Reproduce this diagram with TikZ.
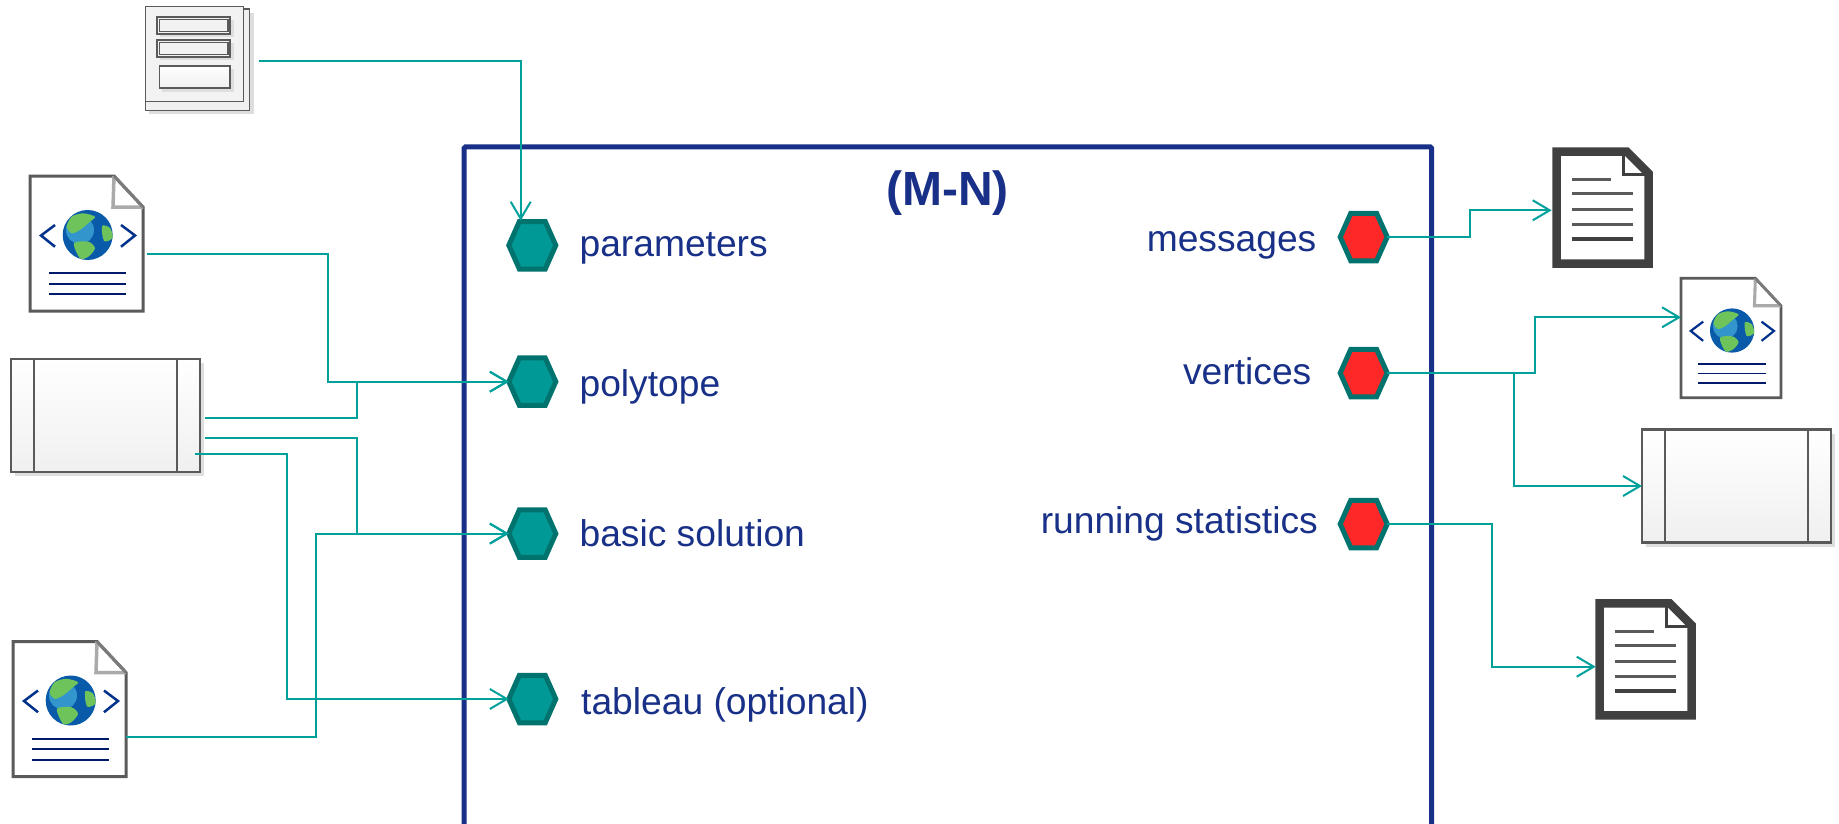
\documentclass[tikz,border=0pt]{standalone}
\usepackage{fontspec}
\setmainfont{Liberation Sans}
\usetikzlibrary{arrows.meta, shapes.symbols, shadows}

\definecolor{navyline}{RGB}{24,48,135}
\definecolor{wireteal}{RGB}{0,160,155}
\definecolor{hexedge}{RGB}{0,115,110}
\definecolor{hexteal}{RGB}{0,153,150}
\definecolor{hexred}{RGB}{255,40,40}
\definecolor{edgegray}{RGB}{90,90,90}
\definecolor{docgray}{RGB}{64,64,64}
\definecolor{foldgray}{RGB}{170,170,170}
\definecolor{shadegray}{RGB}{222,222,222}
\definecolor{globeblue}{RGB}{10,90,170}
\definecolor{globelight}{RGB}{50,150,205}
\definecolor{globegreen}{RGB}{110,195,90}
\definecolor{rulenavy}{RGB}{0,25,105}
\definecolor{chevblue}{RGB}{0,50,140}

\tikzset{
    wire/.style={draw=wireteal, line width=2pt},
    wirearrow/.style={wire, -{Straight Barb[length=17pt, width=20pt]}},
    port/.style={shape=signal, signal to=east and west, signal pointer angle=132, draw=hexedge,
        line width=5pt, minimum width=47pt, minimum height=47.5pt, inner sep=0pt, outer sep=0pt},
    portin/.style={port, fill=hexteal},
    portout/.style={port, fill=hexred},
    portlabel/.style={text=navyline, font=\fontsize{37.2}{37.2}\selectfont, inner sep=0pt},
    tablebox/.style={draw=edgegray, line width=2.2pt, minimum width=189pt, minimum height=113pt, outer sep=0pt,
        top color=white, bottom color=black!6,
        drop shadow={shadow xshift=4pt, shadow yshift=-4pt, fill=shadegray, opacity=1},
        path picture={
            \draw[edgegray, line width=2.2pt] ([xshift=23pt]path picture bounding box.north west) -- ([xshift=23pt]path picture bounding box.south west);
            \draw[edgegray, line width=2.2pt] ([xshift=-23pt]path picture bounding box.north east) -- ([xshift=-23pt]path picture bounding box.south east);
        }},
    pics/xmldoc/.style={code={
        \begin{scope}[scale=#1]
            \draw[fill=white, draw=edgegray, line width=#1*3pt] (0,0) -- (84,0) -- (113,31) -- (113,135) -- (0,135) -- cycle;
            \draw[foldgray, line width=#1*3.5pt] (84,0) -- (83,31) -- (113,31);
            \draw[edgegray!80, line width=#1*3pt] (84,0) -- (113,31);
            \fill[globeblue] (57.7,59) circle (25);
            \fill[globelight] (50,54) circle (14);
            \fill[globegreen] plot[smooth cycle] coordinates {(36.7,50.7) (41.7,40.7) (53.3,37.3) (65,40.7) (60,45.7) (50,54) (41.7,57.3)};
            \fill[globegreen] plot[smooth cycle] coordinates {(44,67.3) (58.3,65.7) (65,72.3) (58.3,80.7) (50,82.3)};
            \fill[globegreen] plot[smooth cycle] coordinates {(72,50) (80,52) (82.5,62) (74,65)};
            \draw[chevblue, line width=#1*2.5pt] (25,49) -- (11,59.5) -- (25,70.7);
            \draw[chevblue, line width=#1*2.5pt] (91,49) -- (105,59.5) -- (91,70.7);
            \foreach \ly in {97,107.5,118}
                \draw[rulenavy, line width=#1*2pt] (19,\ly) -- (96,\ly);
        \end{scope}
    }},
    pics/textdoc/.style={code={
        \draw[fill=white, draw=docgray, line width=8.5pt, miter limit=4] (4,4) -- (74,4) -- (96,26) -- (96,116) -- (4,116) -- cycle;
        \draw[docgray, line width=3.5pt] (71,6) -- (71,27) -- (93,27);
        \draw[edgegray, line width=3pt] (19.7,31.7) -- (58,31.7);
        \foreach \ly in {46,62,76.7}
            \draw[edgegray, line width=3pt] (19.7,\ly) -- (80,\ly);
        \draw[docgray, line width=4pt] (19.7,91.7) -- (80,91.7);
    }}
}

\begin{document}
\begin{tikzpicture}[x=1pt, y=-1pt]
    \useasboundingbox (0,0) rectangle (1839,824);

    \draw[navyline, line width=5pt, rounded corners=1.5pt] (464,824) -- (464,147) -- (1431.7,147) -- (1431.7,824);
    \node[text=navyline, font=\fontsize{48}{48}\selectfont\bfseries, inner sep=0pt] (title) at (947.6,193) {(M-N)};

    \foreach \name/\x/\y in {hexparam/532.3/245.3, hexpoly/532.3/381.7, hexbasic/532.3/533.6, hextab/532.3/699}
        \node[portin] (\name) at (\x,\y) {};
    \foreach \name/\x/\y in {hexmess/1363.7/237, hexvert/1363.7/373, hexstat/1363.7/524}
        \node[portout] (\name) at (\x,\y) {};

    \foreach \name/\x/\y/\txt in {labparam/579.4/256/parameters, labpoly/579.4/396/polytope, labbasic/579.4/546.5/basic solution, labtab/581/714/tableau (optional)}
        \node[portlabel, anchor=base west] (\name) at (\x,\y) {\txt};
    \foreach \name/\x/\y/\txt in {labmess/1316.5/251/messages, labvert/1311.5/384.7/vertices, labstat/1318/533.6/running statistics}
        \node[portlabel, anchor=base east] (\name) at (\x,\y) {\txt};

    \fill[shadegray] (149,13) rectangle (254,114);
    \draw[edgegray, line width=1.5pt, fill=black!6] (145.5,9) rectangle (249.5,110.5);
    \draw[edgegray, line width=1.5pt, fill=black!5] (145.5,6.5) rectangle (243.7,101.5);
    \foreach \ytop/\ybot in {17/34, 40/57} {
        \fill[shadegray] (160,\ytop+3) rectangle (234,\ybot+3);
        \draw[edgegray, line width=1.5pt, fill=black!5] (157,\ytop) rectangle (230,\ybot);
        \draw[edgegray, line width=1.2pt] (159.5,\ytop+2.5) rectangle (228,\ybot-2.5);
    }
    \fill[shadegray] (162,69) rectangle (234,92);
    \draw[edgegray, line width=1.5pt, top color=white, bottom color=black!6] (159.5,66) rectangle (230,88);

    \pic at (30,176) {xmldoc=1};
    \pic at (13,641.5) {xmldoc=1};
    \pic at (1681,278.3) {xmldoc=.885};
    \pic at (1552.7,147.7) {textdoc};
    \pic at (1595.7,599.3) {textdoc};

    \node[tablebox] (boxa) at (105.5,415.5) {};
    \node[tablebox] (boxb) at (1736.5,486) {};

    \foreach \name/\x/\y in {formout/259/61, xmlaout/146.7/254, xmlbout/125.5/736.5, boxaouta/204.5/417.7, boxaoutb/204.5/438.3, boxaoutc/194.5/454,
        parin/520.7/220.7, xmlain/328.4/381.7, boxain/356.5/381.7, boxbin/356.5/533.6, boxcin/287.3/699, xmlbin/315.5/533.6,
        messbend/1469.7/237, messin/1551.7/210.3, vertbend/1535/373, vertin/1681/317.3, vertfork/1514/373, statbend/1492/524, statin/1595.7/666.7}
        \coordinate (\name) at (\x,\y);

    \draw[wirearrow] (formout) -| (parin);
    \draw[wirearrow] (xmlaout) -| (xmlain) -- (hexpoly.west);
    \draw[wirearrow] (boxaouta) -| (boxain) -- (hexpoly.west);
    \draw[wirearrow] (boxaoutb) -| (boxbin) -- (hexbasic.west);
    \draw[wirearrow] (boxaoutc) -| (boxcin) -- (hextab.west);
    \draw[wirearrow] (xmlbout) -| (xmlbin) -- (hexbasic.west);
    \draw[wirearrow] (hexmess.east) -- (messbend) |- (messin);
    \draw[wirearrow] (hexvert.east) -- (vertbend) |- (vertin);
    \draw[wirearrow] (vertfork) |- (boxb.west);
    \draw[wirearrow] (hexstat.east) -| (statbend) |- (statin);
\end{tikzpicture}
\end{document}
